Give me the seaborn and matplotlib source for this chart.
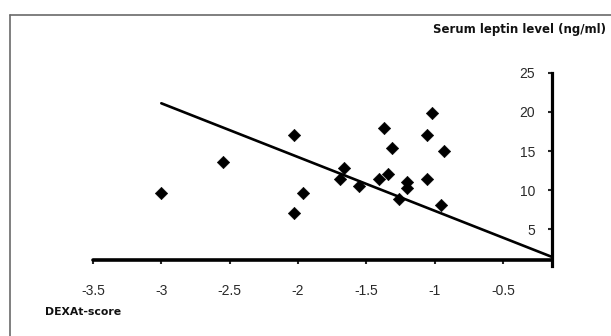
import matplotlib
matplotlib.use("Agg")
import matplotlib.pyplot as plt
import seaborn as sns
import numpy as np
import pandas as pd
from matplotlib.lines import Line2D

# ---- data ----
dexa_t_score = [-3.0, -2.55, -2.03, -1.96, -2.03, -1.69, -1.66, -1.55, -1.41, -1.37,
                -1.34, -1.31, -1.26, -1.205, -1.205, -1.057, -1.057, -1.015, -0.955, -0.93]
leptin_level = [9.7, 13.6, 17.0, 9.7, 7.1, 11.4, 12.8, 10.6, 11.5, 17.9,
                12.1, 15.4, 8.9, 11.0, 10.3, 17.0, 11.5, 19.9, 8.1, 15.0]
trend_x = [-3.0, -0.14]
trend_y = [21.1, 1.5]
x_ticks = [-3.5, -3.0, -2.5, -2.0, -1.5, -1.0, -0.5]
x_tick_labels = ["-3.5", "-3", "-2.5", "-2", "-1.5", "-1", "-0.5"]
y_ticks = [5, 10, 15, 20, 25]
y_tick_labels = ["5", "10", "15", "20", "25"]
x_limits = (-3.5, -0.14)
y_limits = (0.35, 25)
x_axis_crossing = 1.1

sns.set_style("white")
plt.rcParams['font.family'] = ['Liberation Sans', 'DejaVu Sans']

df = pd.DataFrame({"x": dexa_t_score, "y": leptin_level})
tr = pd.DataFrame({"x": trend_x, "y": trend_y})

px_per_unit = 7.84
top_px = 72.7
bottom_px = top_px + (y_limits[1] - y_limits[0]) * px_per_unit

fig = plt.figure(figsize=(6.11, 3.36), dpi=100)
ax = fig.add_axes([93 / 611, 1 - bottom_px / 336, (552 - 93) / 611, (bottom_px - top_px) / 336])

sns.lineplot(data=tr, x="x", y="y", color="black", linewidth=1.9, ax=ax)
sns.scatterplot(data=df, x="x", y="y", marker="D", s=40, color="black",
                edgecolor="black", linewidth=0.4, ax=ax, zorder=3)

ax.set_xlim(*x_limits)
ax.set_ylim(*y_limits)
ax.set_xticks(x_ticks)
ax.set_xticklabels(x_tick_labels)
ax.set_yticks(y_ticks)
ax.set_yticklabels(y_tick_labels)
ax.set_xlabel("")
ax.set_ylabel("")

for s in ["top", "right"]:
    ax.spines[s].set_visible(False)
ax.spines["left"].set_position(("axes", 1.0))
ax.spines["bottom"].set_position(("data", x_axis_crossing))
ax.spines["left"].set_linewidth(2.3)
ax.spines["bottom"].set_linewidth(2.6)
ax.spines["left"].set_color("black")
ax.spines["bottom"].set_color("black")
ax.spines["bottom"].set_capstyle("round")

ax.tick_params(axis="x", direction="out", length=3, width=1.5, pad=14,
               labelsize=10, labelcolor="#2a2a2a", bottom=True)
ax.tick_params(axis="y", direction="out", length=3, width=1.5, pad=9,
               labelsize=10, labelcolor="#2a2a2a", left=True)
ax.grid(False)
ax.patch.set_alpha(0)

# outer frame (top and left edges visible)
fig.add_artist(Line2D([10 / 611, 1.0], [1 - 15 / 336] * 2, transform=fig.transFigure,
                      color="#6a6a6a", linewidth=1.2))
fig.add_artist(Line2D([10 / 611] * 2, [0.0, 1 - 15 / 336], transform=fig.transFigure,
                      color="#6a6a6a", linewidth=1.2))

fig.text(606 / 611, 1 - 30 / 336, "Serum leptin level (ng/ml)", ha="right", va="center",
         fontsize=8.5, fontweight="bold", color="#111111", family=["DejaVu Sans"])
fig.text(45 / 611, 1 - 312 / 336, "DEXAt-score", ha="left", va="center",
         fontsize=7.8, fontweight="bold", color="#111111", family=["DejaVu Sans"])

fig.savefig("out.png", dpi=100)
